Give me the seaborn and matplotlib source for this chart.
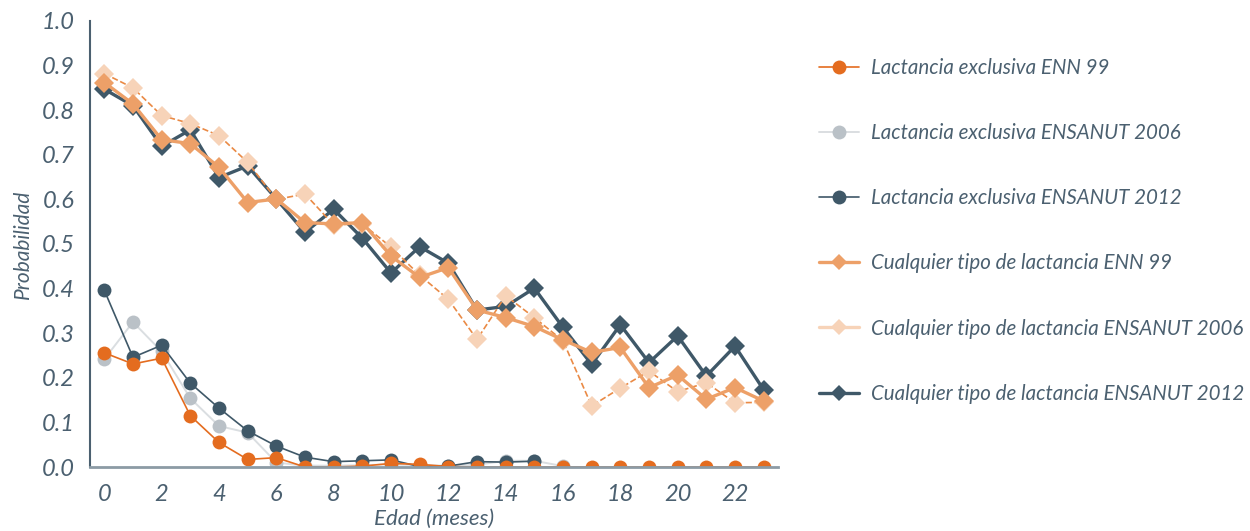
import numpy as np
import pandas as pd
import matplotlib
matplotlib.use("Agg")
import matplotlib.pyplot as plt
from matplotlib.lines import Line2D
from matplotlib.ticker import FormatStrFormatter
import seaborn as sns

nan = np.nan
meses = list(range(24))

excl_enn99 = [0.256, 0.231, 0.244, 0.115, 0.055, 0.017, 0.021, 0.0, 0.0, 0.002, 0.008, 0.006,
              0.001, 0.0, 0.0, 0.0, 0.0, 0.0, 0.0, 0.0, 0.0, 0.0, 0.0, 0.0]
excl_2006 = [0.242, 0.325, 0.259, 0.154, 0.092, 0.077, 0.010, 0.003, 0.003, 0.004, 0.006, 0.004,
             0.003, 0.005, 0.014, 0.014, 0.002, nan, nan, nan, nan, nan, nan, nan]
excl_2012 = [0.396, 0.246, 0.273, 0.188, 0.132, 0.081, 0.047, 0.022, 0.012, 0.014, 0.016, 0.001,
             0.002, 0.012, 0.011, 0.013, nan, nan, nan, nan, nan, nan, nan, nan]
cualq_enn99 = [0.862, 0.814, 0.734, 0.725, 0.672, 0.593, 0.601, 0.548, 0.545, 0.548, 0.473, 0.425,
               0.447, 0.352, 0.335, 0.315, 0.285, 0.257, 0.268, 0.178, 0.206, 0.152, 0.178, 0.148]
cualq_2006 = [0.882, 0.850, 0.788, 0.770, 0.743, 0.683, 0.600, 0.612, 0.543, 0.545, 0.493, 0.430,
              0.376, 0.286, 0.384, 0.335, 0.283, 0.137, 0.177, 0.215, 0.169, 0.189, 0.144, 0.145]
cualq_2012 = [0.847, 0.810, 0.719, 0.756, 0.649, 0.675, 0.601, 0.526, 0.578, 0.513, 0.435, 0.494,
              0.457, 0.352, 0.360, 0.401, 0.313, 0.230, 0.319, 0.234, 0.294, 0.204, 0.271, 0.173]

etiquetas = ["Lactancia exclusiva ENN 99", "Lactancia exclusiva ENSANUT 2006",
             "Lactancia exclusiva ENSANUT 2012", "Cualquier tipo de lactancia ENN 99",
             "Cualquier tipo de lactancia ENSANUT 2006", "Cualquier tipo de lactancia ENSANUT 2012"]

naranja = "#E46C1F"
gris = "#BAC1C7"
gris_linea = "#DADEE1"
oscuro = "#3F5868"
naranja_claro = "#EDA068"
durazno = "#F7D3B8"
texto = "#4B6070"

sns.set_style("white")
plt.rcParams["font.family"] = ["Lato", "DejaVu Sans"]
plt.rcParams["font.style"] = "italic"

fig = plt.figure(figsize=(12.5, 5.31), dpi=100)
ax = fig.add_axes([0.072, 0.1205, 0.5504, 0.84])

# dibujo: orden para que las capas se parezcan al original
series = [
    (cualq_2012, oscuro, oscuro, "D", "-", 2.4, 10),
    (cualq_2006, durazno, "#EA8A45", "D", "--", 1.2, 10),
    (cualq_enn99, naranja_claro, naranja_claro, "D", "-", 2.4, 10),
    (excl_2006, gris, gris_linea, "o", "-", 1.4, 10),
    (excl_2012, oscuro, oscuro, "o", "-", 1.2, 10),
    (excl_enn99, naranja, naranja, "o", "-", 1.2, 10),
]
for vals, mcol, lcol, mk, ls, lw, ms in series:
    sns.lineplot(x=meses, y=vals, ax=ax, color=lcol, linestyle=ls, linewidth=lw,
                 marker=mk, markersize=ms, markerfacecolor=mcol, markeredgecolor=mcol,
                 markeredgewidth=0)

ax.set_xlim(-0.5, 23.5)
ax.set_ylim(0, 1.0)
ax.set_xticks(range(0, 23, 2))
ax.set_xticks(np.arange(-0.5, 23.6, 1), minor=True)
ax.set_yticks(np.arange(0, 1.01, 0.1))
ax.yaxis.set_major_formatter(FormatStrFormatter("%.1f"))
ax.tick_params(axis="x", which="major", length=0, pad=12, labelsize=17, labelcolor=texto)
ax.tick_params(axis="x", which="minor", length=7, width=1.3, color="#8C9BA5", direction="out")
ax.tick_params(axis="y", length=7, width=1.3, color=texto, direction="out", labelsize=17,
               labelcolor=texto, pad=4)
for lab in ax.get_xticklabels() + ax.get_yticklabels():
    lab.set_fontstyle("italic")

sns.despine(ax=ax)
ax.spines["left"].set_color(texto)
ax.spines["left"].set_linewidth(1.5)
ax.spines["bottom"].set_color("#8C9BA5")
ax.spines["bottom"].set_linewidth(2)

ax.set_xlabel("Edad (meses)", fontsize=16, color=texto, style="italic", labelpad=3)
ax.set_ylabel("Probabilidad", fontsize=15, color=texto, style="italic", labelpad=6)

handles = [
    Line2D([], [], color=naranja, marker="o", markersize=10, mew=0, lw=1.2),
    Line2D([], [], color=gris_linea, marker="o", markersize=10, markerfacecolor=gris, mew=0, lw=1.4),
    Line2D([], [], color=oscuro, marker="o", markersize=10, mew=0, lw=1.2),
    Line2D([], [], color=naranja_claro, marker="D", markersize=8, mew=0, lw=2.4),
    Line2D([], [], color=durazno, marker="D", markersize=8, mew=0, lw=2.4),
    Line2D([], [], color=oscuro, marker="D", markersize=8, mew=0, lw=2.4),
]
leg = fig.legend(handles, etiquetas, loc="upper left", bbox_to_anchor=(0.640, 0.926),
                 frameon=False, fontsize=14.8, handlelength=1.95, handletextpad=0.6,
                 labelspacing=2.2)
for t in leg.get_texts():
    t.set_color(texto)
    t.set_fontstyle("italic")

fig.savefig("out.png", dpi=100)
